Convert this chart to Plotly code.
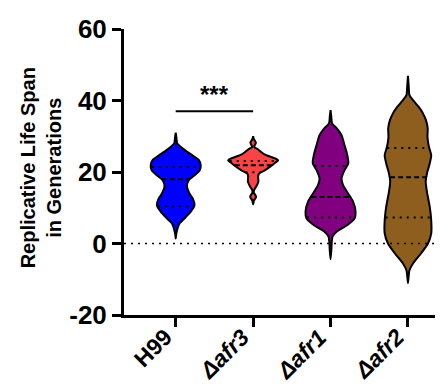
import plotly.graph_objects as go
import numpy as np

FONT = "Liberation Sans, Arial, sans-serif"

categories = ["H99", "Δafr3", "Δafr1", "Δafr2"]
tick_labels = ["H99", "<i>Δafr3</i>", "<i>Δafr1</i>", "<i>Δafr2</i>"]
colors = ["#0000FF", "#F84444", "#800080", "#8E5E1F"]
y_ticks = [-20, 0, 20, 40, 60]
y_tick_labels = ["-20", "0", "20", "40", "60"]

# Violin outlines: value levels and relative half-width (density)
h99_y = [1.4, 3.0, 5.6, 7.0, 8.9, 10.7, 12.6, 14.0, 15.9, 17.7, 19.1, 20.5, 21.9, 23.4, 24.6, 26.2, 28.0, 29.5, 31.0]
h99_w = [0.0, 0.03, 0.15, 0.35, 0.60, 0.75, 0.68, 0.55, 0.45, 0.52, 0.76, 0.96, 1.00, 0.92, 0.68, 0.35, 0.06, 0.03, 0.0]

afr3_y = [10.9, 12.0, 13.1, 14.2, 15.0, 15.9, 17.3, 18.7, 19.6, 20.5, 21.7, 22.6, 23.3, 23.8, 24.7, 25.6, 26.3, 27.0, 28.2, 29.2, 30.0]
afr3_w = [0.0, 0.03, 0.12, 0.03, 0.04, 0.12, 0.21, 0.20, 0.24, 0.48, 0.72, 0.88, 1.00, 0.88, 0.52, 0.32, 0.20, 0.04, 0.11, 0.03, 0.0]

afr1_y = [-4.4, -2.0, 0.5, 1.9, 3.3, 5.1, 7.0, 8.9, 11.7, 14.0, 16.3, 18.2, 20.5, 22.4, 24.7, 27.5, 30.3, 32.2, 33.6, 35.5, 37.3]
afr1_w = [0.0, 0.03, 0.05, 0.08, 0.24, 0.66, 0.96, 1.00, 0.90, 0.70, 0.50, 0.44, 0.56, 0.71, 0.67, 0.56, 0.44, 0.25, 0.06, 0.03, 0.0]

afr2_y = [-11.1, -9.0, -7.5, -5.6, -2.8, 0.0, 2.8, 6.5, 10.3, 14.0, 17.3, 19.6, 22.4, 24.7, 27.0, 29.8, 32.2, 34.5, 36.4, 38.2, 40.1, 41.5, 44.0, 46.9]
afr2_w = [0.0, 0.03, 0.06, 0.20, 0.52, 0.80, 0.93, 0.93, 0.87, 0.77, 0.71, 0.76, 0.87, 0.93, 0.84, 0.78, 0.79, 0.72, 0.60, 0.43, 0.20, 0.06, 0.03, 0.0]

# Quartiles (Q1, median, Q3)
h99_q = [10.4, 18.0, 21.4]
afr3_q = [19.9, 21.9, 23.1]
afr1_q = [7.3, 13.0, 21.7]
afr2_q = [7.3, 18.5, 26.7]

profiles = [(h99_y, h99_w, h99_q), (afr3_y, afr3_w, afr3_q), (afr1_y, afr1_w, afr1_q), (afr2_y, afr2_w, afr2_q)]

sig_pair = [0, 1]
sig_level = 37.0
sig_text = "***"

MAXW = 0.323  # max half width in category units

fig = go.Figure()
for i, (ys, ws, qs) in enumerate(profiles):
    ys = np.array(ys, dtype=float)
    ws = np.array(ws, dtype=float) * MAXW
    xs = np.concatenate([i + ws, (i - ws)[::-1]])
    yy = np.concatenate([ys, ys[::-1]])
    fig.add_trace(go.Scatter(
        x=xs, y=yy, mode="lines", fill="toself", fillcolor=colors[i],
        line=dict(color="black", width=2, shape="spline", smoothing=0.6),
        hoverinfo="skip", showlegend=False,
    ))
    for k, q in enumerate(qs):
        hw = float(np.interp(q, ys, ws)) * 0.97
        fig.add_trace(go.Scatter(
            x=[i - hw, i + hw], y=[q, q], mode="lines",
            line=dict(color="black", width=2, dash=("5px,3px" if k == 1 else "2px,5px")),
            hoverinfo="skip", showlegend=False,
        ))

# zero reference line
fig.add_shape(type="line", xref="paper", x0=0, x1=1, yref="y", y0=0, y1=0,
              line=dict(color="black", width=1.5, dash="2px,5px"), layer="above")

# significance bar
fig.add_trace(go.Scatter(x=sig_pair, y=[sig_level, sig_level], mode="lines",
                         line=dict(color="black", width=2), hoverinfo="skip", showlegend=False))
fig.add_annotation(x=sum(sig_pair) / 2, y=sig_level, text="<b>" + sig_text + "</b>", showarrow=False,
                   yanchor="bottom", yshift=1, font=dict(family=FONT, size=24, color="black"))

# rotated category labels
for i, lab in enumerate(tick_labels):
    fig.add_annotation(x=i, xref="x", y=-0.085, yref="paper", text=lab, textangle=-45,
                       xanchor="right", yanchor="top", xshift=4, yshift=18, showarrow=False,
                       font=dict(family=FONT, size=23, color="black", weight="bold"))

# y axis title as annotation
fig.add_annotation(xref="paper", yref="paper", x=-0.255, y=0.515, xanchor="center", yanchor="middle",
                   text="Replicative Life Span<br>in Generations", textangle=-90, showarrow=False,
                   font=dict(family=FONT, size=20, color="black", weight="bold"))

fig.update_layout(
    width=443, height=388,
    margin=dict(l=116, r=0, t=21, b=81),
    plot_bgcolor="white", paper_bgcolor="white",
    xaxis=dict(range=[-0.668, 3.556], tickmode="array", tickvals=list(range(len(categories))),
               showticklabels=False, showgrid=False, zeroline=False,
               showline=True, linecolor="black", linewidth=3, ticks="outside", ticklen=9,
               tickwidth=3, tickcolor="black"),
    yaxis=dict(range=[-20, 60], tickmode="array", tickvals=y_ticks, ticktext=y_tick_labels,
               showgrid=False, zeroline=False,
               showline=True, linecolor="black", linewidth=3, ticks="outside", ticklen=9,
               tickwidth=3, tickcolor="black",
               tickfont=dict(family=FONT, size=26, color="black", weight="bold")),
)

fig.write_html("out.html")
